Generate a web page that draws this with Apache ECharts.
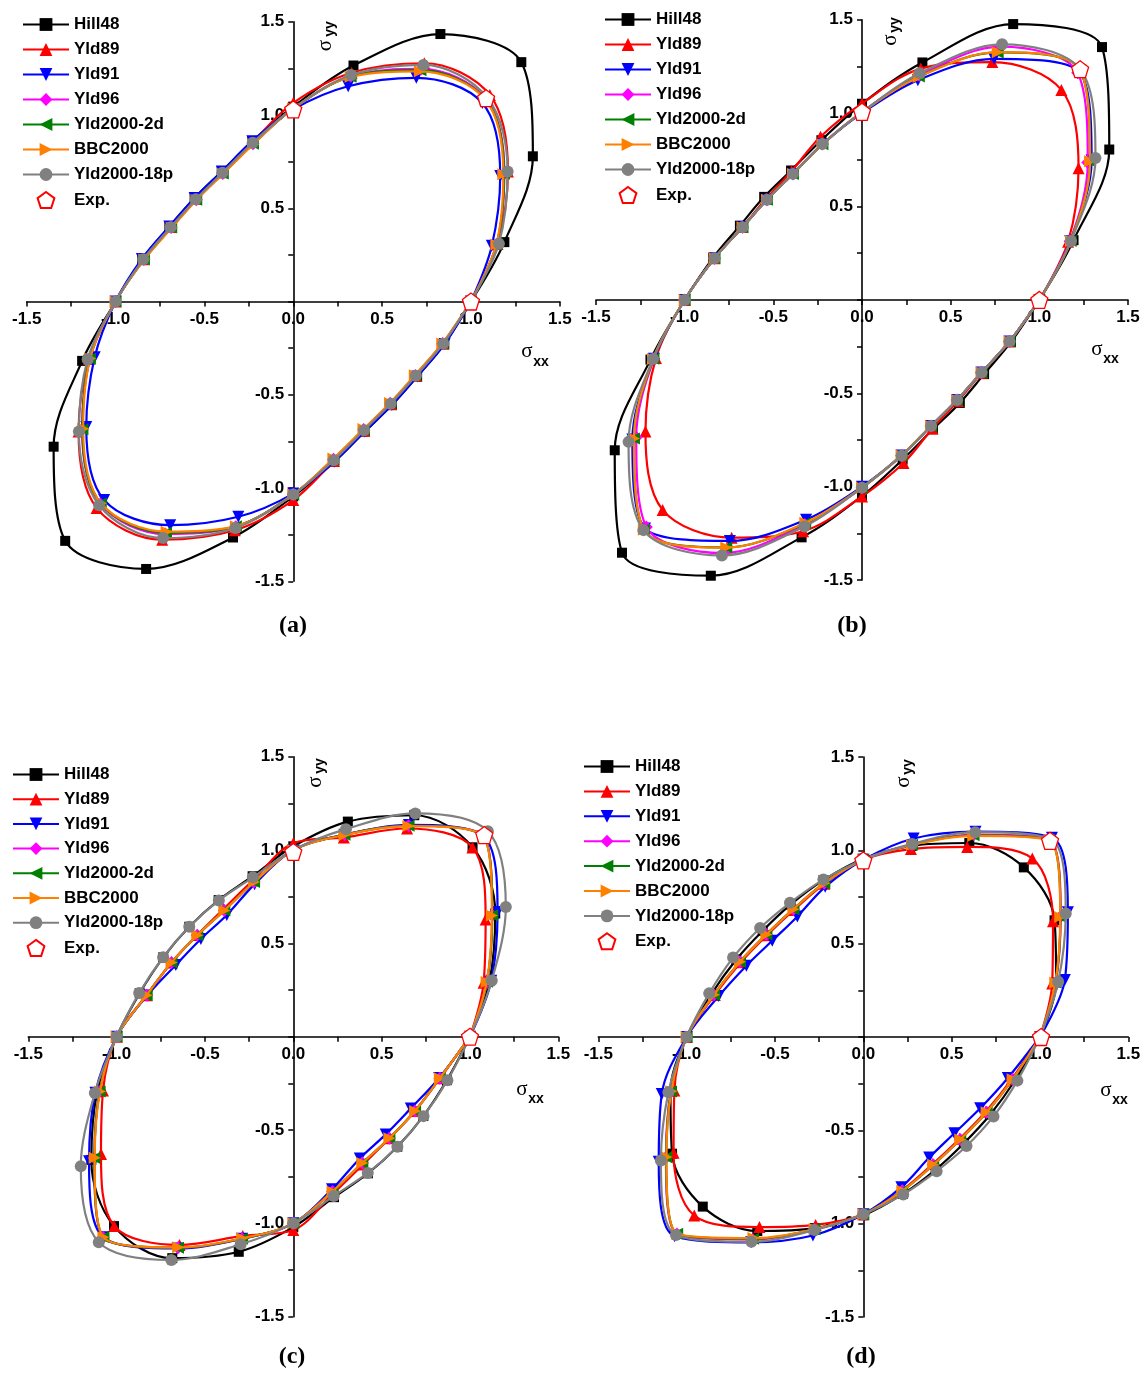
<!DOCTYPE html>
<html><head><meta charset="utf-8">
<script src="https://cdn.jsdelivr.net/npm/echarts@6/dist/echarts.min.js"></script>
<style>html,body{margin:0;padding:0;background:#fff}#c{width:1147px;height:1374px}</style>
</head><body><div id="c"></div>
<script>
// Polar sampling angles (deg) of the marked points; loci are centrally symmetric r(θ+180)=r(θ)
const ANGLES = [0, 15, 30, 45, 60, 75, 90, 105, 120, 135, 150, 165];
const MODELS = ['Hill48', 'Yld89', 'Yld91', 'Yld96', 'Yld2000-2d', 'BBC2000', 'Yld2000-18p'];
const TICK_LABELS = ['-1.5', '-1.0', '-0.5', '0.0', '0.5', '1.0', '1.5'];
const PANEL_LABELS = ['(a)', '(b)', '(c)', '(d)'];

// Panel (a) radii
const A_HILL48 = [1.0, 1.23, 1.557, 1.815, 1.656, 1.31, 1.045, 0.89, 0.805, 0.785, 0.805, 0.88];
const A_YLD89  = [1.0, 1.19, 1.395, 1.565, 1.475, 1.27, 1.065, 0.885, 0.80, 0.78, 0.80, 0.875];
const A_YLD91  = [1.0, 1.157, 1.345, 1.505, 1.385, 1.195, 1.03, 0.89, 0.805, 0.785, 0.805, 0.882];
const A_YLD96  = [1.0, 1.185, 1.372, 1.535, 1.44, 1.25, 1.035, 0.875, 0.793, 0.772, 0.793, 0.87];
const A_YLD2D  = [1.0, 1.185, 1.37, 1.532, 1.432, 1.248, 1.035, 0.875, 0.793, 0.772, 0.793, 0.87];
const A_BBC    = [1.0, 1.183, 1.365, 1.53, 1.425, 1.247, 1.035, 0.872, 0.79, 0.77, 0.79, 0.868];
const A_YLD18P = [1.0, 1.198, 1.393, 1.545, 1.465, 1.257, 1.035, 0.881, 0.797, 0.776, 0.797, 0.874];
const A_EXP_X = [1.0, 1.085, 0.0];
const A_EXP_Y = [0.0, 1.09, 1.03];

// Panel (b) radii
const B_HILL48 = [1.0, 1.235, 1.61, 1.914, 1.705, 1.316, 1.05, 0.885, 0.80, 0.78, 0.795, 0.87];
const B_YLD89  = [1.0, 1.203, 1.41, 1.59, 1.47, 1.282, 1.052, 0.904, 0.795, 0.765, 0.78, 0.862];
const B_YLD91  = [1.0, 1.215, 1.495, 1.73, 1.49, 1.218, 1.0, 0.862, 0.779, 0.758, 0.778, 0.861];
const B_YLD96  = [1.0, 1.215, 1.47, 1.72, 1.565, 1.245, 1.005, 0.864, 0.779, 0.758, 0.778, 0.861];
const B_YLD2D  = [1.0, 1.218, 1.485, 1.74, 1.53, 1.238, 1.005, 0.862, 0.779, 0.758, 0.778, 0.861];
const B_BBC    = [1.0, 1.22, 1.485, 1.74, 1.531, 1.235, 1.005, 0.862, 0.779, 0.758, 0.778, 0.861];
const B_YLD18P = [1.0, 1.22, 1.52, 1.743, 1.58, 1.256, 1.005, 0.864, 0.779, 0.758, 0.778, 0.861];
const B_EXP_X = [1.0, 1.23, 0.0];
const B_EXP_Y = [0.0, 1.235, 1.007];

// Panel (c) radii
const C_HILL48 = [1.0, 1.15, 1.32, 1.435, 1.37, 1.193, 1.02, 0.89, 0.845, 0.833, 0.85, 0.90];
const C_YLD89  = [1.0, 1.115, 1.257, 1.434, 1.288, 1.105, 1.036, 0.87, 0.79, 0.77, 0.795, 0.86];
const C_YLD91  = [1.0, 1.16, 1.335, 1.52, 1.31, 1.12, 1.0, 0.846, 0.753, 0.74, 0.768, 0.855];
const C_YLD96  = [1.0, 1.135, 1.30, 1.522, 1.305, 1.12, 1.0, 0.858, 0.781, 0.769, 0.796, 0.859];
const C_YLD2D  = [1.0, 1.135, 1.30, 1.52, 1.305, 1.12, 1.0, 0.858, 0.781, 0.769, 0.796, 0.859];
const C_BBC    = [1.0, 1.133, 1.298, 1.52, 1.303, 1.118, 1.0, 0.858, 0.781, 0.769, 0.796, 0.859];
const C_YLD18P = [1.0, 1.163, 1.389, 1.557, 1.381, 1.151, 1.0, 0.884, 0.843, 0.833, 0.851, 0.903];
const C_EXP_X = [1.0, 1.081, 0.0];
const C_EXP_Y = [0.0, 1.08, 0.99];

// Panel (d) radii
const D_HILL48 = [1.0, 1.13, 1.25, 1.285, 1.20, 1.06, 0.955, 0.87, 0.82, 0.805, 0.83, 0.89];
const D_YLD89  = [1.0, 1.107, 1.24, 1.353, 1.176, 1.042, 0.95, 0.85, 0.786, 0.771, 0.80, 0.87];
const D_YLD91  = [1.0, 1.181, 1.337, 1.51, 1.27, 1.101, 0.95, 0.833, 0.746, 0.729, 0.764, 0.847];
const D_YLD96  = [1.0, 1.128, 1.29, 1.492, 1.252, 1.067, 0.95, 0.853, 0.791, 0.776, 0.806, 0.875];
const D_YLD2D  = [1.0, 1.127, 1.288, 1.49, 1.248, 1.066, 0.95, 0.853, 0.791, 0.776, 0.806, 0.875];
const D_BBC    = [1.0, 1.125, 1.287, 1.49, 1.244, 1.065, 0.95, 0.853, 0.791, 0.776, 0.806, 0.875];
const D_YLD18P = [1.0, 1.142, 1.323, 1.50, 1.267, 1.071, 0.95, 0.873, 0.83, 0.826, 0.851, 0.903];
const D_EXP_X = [1.006, 1.057, 0.0];
const D_EXP_Y = [0.0, 1.051, 0.946];

const PANEL_RADII = [
  [A_HILL48, A_YLD89, A_YLD91, A_YLD96, A_YLD2D, A_BBC, A_YLD18P],
  [B_HILL48, B_YLD89, B_YLD91, B_YLD96, B_YLD2D, B_BBC, B_YLD18P],
  [C_HILL48, C_YLD89, C_YLD91, C_YLD96, C_YLD2D, C_BBC, C_YLD18P],
  [D_HILL48, D_YLD89, D_YLD91, D_YLD96, D_YLD2D, D_BBC, D_YLD18P]
];
const PANEL_EXP = [[A_EXP_X, A_EXP_Y], [B_EXP_X, B_EXP_Y], [C_EXP_X, C_EXP_Y], [D_EXP_X, D_EXP_Y]];

// ---- layout / style (not data) ----
const LAYOUT = [
  {left: 26.7, top: 21.75, width: 533.1, height: 559.5, legL: 22, legT: 16, gap: 8,
   sx: [527, 351, 541, 362], sy: [325, 45.5, 330, 29], lab: [293, 626]},
  {left: 596, top: 19.7, width: 532, height: 560.4, legL: 604, legT: 11, gap: 8,
   sx: [1097, 349, 1111, 359], sy: [890, 40, 895, 25], lab: [852, 626]},
  {left: 28.3, top: 756.7, width: 530, height: 560, legL: 12, legT: 766, gap: 7.7,
   sx: [522, 1089, 536, 1099], sy: [315, 782, 320, 766], lab: [292, 1357]},
  {left: 598.3, top: 757, width: 530, height: 560, legL: 583, legT: 758, gap: 7.9,
   sx: [1106, 1090, 1120, 1100], sy: [903, 782, 908, 767], lab: [861, 1357]}
];
const STYLE = {
  'Hill48':      {color: '#000000', symbol: 'rect', size: 10, rot: 0},
  'Yld89':       {color: '#ff0000', symbol: 'triangle', size: 12, rot: 0},
  'Yld91':       {color: '#0000ff', symbol: 'triangle', size: 12, rot: 180},
  'Yld96':       {color: '#ff00ff', symbol: 'diamond', size: 13, rot: 0},
  'Yld2000-2d':  {color: '#008000', symbol: 'triangle', size: 12, rot: 90},
  'BBC2000':     {color: '#ff8000', symbol: 'triangle', size: 12, rot: -90},
  'Yld2000-18p': {color: '#808080', symbol: 'circle', size: 12, rot: 0}
};
const PENTAGON = 'path://M0,-10 L9.51,-3.09 L5.88,8.09 L-5.88,8.09 L-9.51,-3.09 Z';
const FONT = 'Liberation Sans, Arial, sans-serif';

function loopPoints(radii) {
  const pts = [];
  for (let k = 0; k <= 24; k++) {
    const deg = ANGLES[k % 12] + 180 * Math.floor(k / 12);
    const r = radii[k % 12];
    const t = deg * Math.PI / 180;
    const p = [r * Math.cos(t), r * Math.sin(t)];
    pts.push(k === 24 ? {value: p, symbol: 'none'} : p);
  }
  return pts;
}
function fmt(v, hideZero) {
  const i = TICK_LABELS.indexOf((Math.round(v * 100) / 100).toFixed(1));
  if (Math.abs(v * 2 - Math.round(v * 2)) > 1e-6 || i < 0) return '';
  if (hideZero && Math.abs(v) < 1e-6) return '';
  return TICK_LABELS[i];
}

const grid = [], xAxis = [], yAxis = [], series = [], legend = [], graphic = [];
LAYOUT.forEach((L, p) => {
  grid.push({left: L.left, top: L.top, width: L.width, height: L.height, containLabel: false});
  const axisCommon = {
    type: 'value', gridIndex: p, min: -1.5, max: 1.5, interval: 0.25,
    axisLine: {onZero: false, lineStyle: {color: '#000', width: 1.6}},
    axisTick: {show: true, length: 5, lineStyle: {color: '#000', width: 1.5}},
    splitLine: {show: false}
  };
  xAxis.push(Object.assign({}, axisCommon, {
    position: 'bottom', offset: -L.height / 2,
    axisLabel: {formatter: v => fmt(v, false), fontSize: 17, fontWeight: 'bold', color: '#000', fontFamily: FONT, margin: 9}
  }));
  yAxis.push(Object.assign({}, axisCommon, {
    position: 'left', offset: -L.width / 2,
    axisLabel: {formatter: v => fmt(v, true), fontSize: 17, fontWeight: 'bold', color: '#000', fontFamily: FONT, margin: 9}
  }));
  MODELS.forEach((m, j) => {
    const s = STYLE[m];
    series.push({
      type: 'line', name: m, xAxisIndex: p, yAxisIndex: p,
      data: loopPoints(PANEL_RADII[p][j]),
      smooth: 0.34, showSymbol: true, symbol: s.symbol, symbolSize: s.size, symbolRotate: s.rot,
      lineStyle: {color: s.color, width: 2.2}, itemStyle: {color: s.color},
      emphasis: {disabled: true}, animation: false, z: 2 + j * 0.01
    });
  });
  const ex = PANEL_EXP[p][0], ey = PANEL_EXP[p][1];
  series.push({
    type: 'scatter', name: 'Exp.', xAxisIndex: p, yAxisIndex: p,
    data: ex.map((x, i) => [x, ey[i]]),
    symbol: PENTAGON, symbolSize: 17,
    itemStyle: {color: '#ffffff', opacity: 1, borderColor: '#ff0000', borderWidth: 1.3},
    emphasis: {disabled: true}, animation: false, z: 5
  });
  legend.push({
    orient: 'vertical', left: L.legL, top: L.legT, padding: 0, itemGap: L.gap,
    itemWidth: 46, itemHeight: 16, selectedMode: false,
    data: MODELS.concat(['Exp.']),
    textStyle: {fontSize: 17, fontWeight: 'bold', color: '#000', fontFamily: FONT}
  });
  graphic.push(
    {type: 'text', x: L.sx[0], y: L.sx[1], style: {text: 'σ', fontSize: 21, fontFamily: 'Liberation Serif, serif', fill: '#000', align: 'center', verticalAlign: 'middle'}},
    {type: 'text', x: L.sx[2], y: L.sx[3], style: {text: 'xx', fontSize: 14, fontWeight: 'bold', fontFamily: FONT, fill: '#000', align: 'center', verticalAlign: 'middle'}},
    {type: 'text', x: L.sy[0], y: L.sy[1], rotation: Math.PI / 2, style: {text: 'σ', fontSize: 21, fontFamily: 'Liberation Serif, serif', fill: '#000', align: 'center', verticalAlign: 'middle'}},
    {type: 'text', x: L.sy[2], y: L.sy[3], rotation: Math.PI / 2, style: {text: 'yy', fontSize: 14, fontWeight: 'bold', fontFamily: FONT, fill: '#000', align: 'center', verticalAlign: 'middle'}},
    {type: 'text', x: L.lab[0], y: L.lab[1], style: {text: PANEL_LABELS[p], fontSize: 24, fontWeight: 'bold', fontFamily: 'Liberation Serif, serif', fill: '#000', align: 'center', verticalAlign: 'middle'}}
  );
});

const chart = echarts.init(document.getElementById('c'), null, {renderer: 'canvas', width: 1147, height: 1374});
chart.setOption({backgroundColor: '#ffffff', animation: false, grid, xAxis, yAxis, series, legend, graphic});
</script></body></html>
